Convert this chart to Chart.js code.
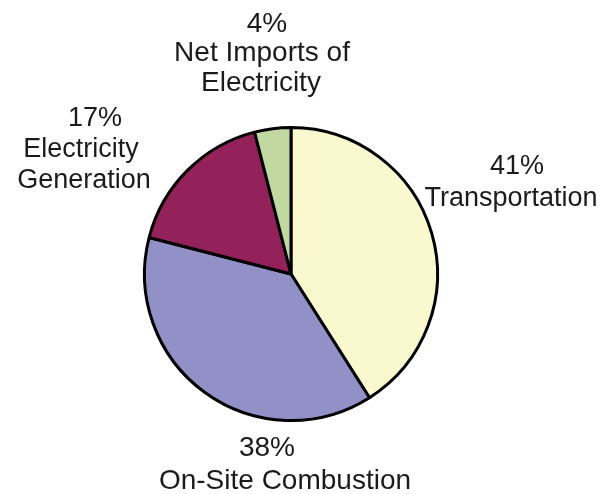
<!DOCTYPE html>
<html>
<head>
<meta charset="utf-8">
<script src="https://cdn.jsdelivr.net/npm/chart.js@4/dist/chart.umd.min.js"></script>
<style>
html,body{margin:0;padding:0;background:#fff;}
#c{display:block;}
</style>
</head>
<body>
<canvas id="c" width="605" height="494"></canvas>
<script>
const categories = ["Transportation", "On-Site Combustion", "Electricity Generation", "Net Imports of Electricity"];
const values = [41, 38, 17, 4];
const labelLines = [
  ["Transportation"],
  ["On-Site Combustion"],
  ["Electricity", "Generation"],
  ["Net Imports of", "Electricity"]
];
const colors = ["#FAF8CE", "#9191C8", "#93215A", "#C1D9A0"];

// label layout: centre x and baseline y for each line
const labelLayout = [
  {size: 27, xs: [517, 511], ys: [174, 206]},
  {size: 28, xs: [267, 285], ys: [456, 489]},
  {size: 27, xs: [95, 81, 84], ys: [126, 157, 188]},
  {size: 28, xs: [267, 262, 261], ys: [32, 61, 91]}
];

const labelPlugin = {
  id: 'sliceLabels',
  afterDraw(chart) {
    const ctx = chart.ctx;
    ctx.save();
    ctx.fillStyle = '#1b1b1b';
    ctx.textAlign = 'center';
    ctx.textBaseline = 'alphabetic';
    const data = chart.data.datasets[0].data;
    data.forEach((v, i) => {
      const L = labelLayout[i];
      ctx.font = L.size + 'px "Liberation Sans", Arial, sans-serif';
      const lines = [v + '%'].concat(labelLines[i]);
      lines.forEach((t, k) => {
        ctx.fillText(t, L.xs[k], L.ys[k]);
      });
    });
    ctx.restore();
  }
};

new Chart(document.getElementById('c'), {
  type: 'pie',
  data: {
    labels: categories,
    datasets: [{
      data: values,
      backgroundColor: colors,
      borderColor: '#000000',
      borderWidth: 3
    }]
  },
  options: {
    responsive: false,
    devicePixelRatio: 1,
    animation: false,
    layout: {padding: {left: 143, right: 166, top: 126, bottom: 72}},
    plugins: {legend: {display: false}, tooltip: {enabled: false}}
  },
  plugins: [labelPlugin]
});
</script>
</body>
</html>
